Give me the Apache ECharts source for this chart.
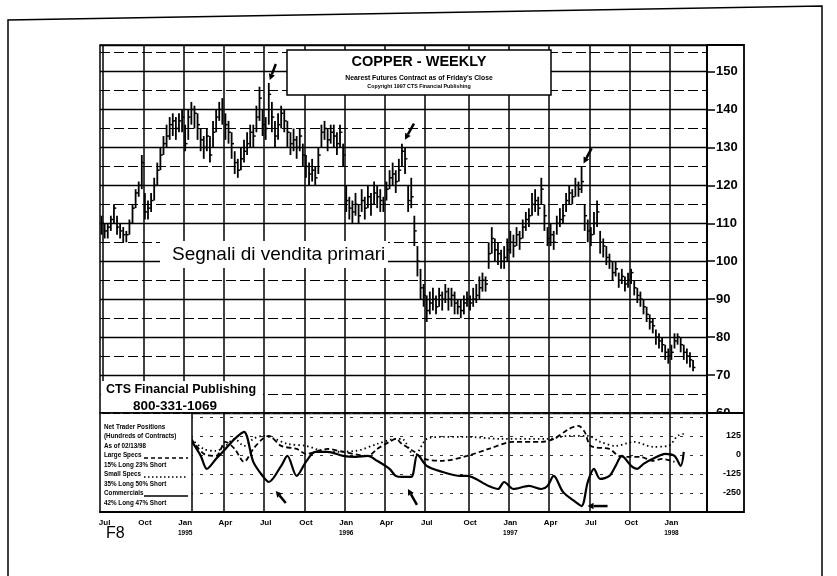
<!DOCTYPE html>
<html><head><meta charset="utf-8">
<script src="https://cdn.jsdelivr.net/npm/echarts@6/dist/echarts.min.js"></script>
<style>html,body{margin:0;padding:0;background:#fff}#c{width:837px;height:576px}</style>
</head><body><div id="c"></div>
<script>
// ---------- DATA ----------
const startDate = Date.UTC(1994, 5, 24); // first weekly bar (Friday)
const weekCount = 196;                   // weekly slots on the axis (Jun 1994 - Mar 1998)
const monthNames = ['Jan','Feb','Mar','Apr','May','Jun','Jul','Aug','Sep','Oct','Nov','Dec'];
const priceTicks = [60,70,80,90,100,110,120,130,140,150];
const priceMinorLevels = [65,75,85,95,105,115,125,135,145,155];
const cotTicks = [125,0,-125,-250];

const priceLow = [
107,106,106,108,110,107,106,105,105,107,
110,114,117,119,111,111,113,116,120,124,
128,130,132,133,132,134,134,129,132,136,
135,132,129,127,129,126,130,134,137,136,
132,131,127,123,122,124,126,128,130,130,
134,137,133,132,136,134,130,132,135,134,
130,128,129,127,129,125,122,120,121,120,
123,130,132,129,131,130,128,130,125,113,
111,110,112,110,113,111,114,112,115,114,
113,113,116,119,120,118,121,125,123,113,
114,104,96,90,88,84,86,87,86,88,
87,89,87,88,86,86,85,86,88,87,
88,89,90,92,92,98,102,100,99,98,
98,100,102,101,104,103,106,108,109,112,
113,112,115,108,104,104,103,107,109,110,
113,115,115,117,117,118,108,105,104,107,
109,102,101,99,98,95,96,93,94,92,
93,94,91,89,88,86,84,82,81,78,
77,76,74,73,74,77,78,76,74,73,
72,71];
const priceHigh = [
112,110,110,112,115,112,110,109,108,111,
115,119,121,128,118,116,118,122,126,130,
133,136,138,139,138,139,140,136,140,142,
141,139,135,133,135,133,137,140,142,143,
139,137,134,129,127,130,132,134,136,136,
141,146,140,138,147,142,137,139,141,140,
137,134,135,133,135,131,128,126,127,125,
130,136,137,135,136,136,134,136,131,120,
117,116,118,115,119,117,120,118,121,120,
119,117,121,124,126,124,127,131,130,120,
122,112,104,98,94,91,92,93,91,93,
92,94,93,93,92,90,90,91,92,91,
93,94,96,97,96,105,109,106,105,103,
104,106,108,107,109,108,111,113,114,118,
119,117,122,115,109,110,108,112,114,115,
118,120,119,122,121,125,115,111,109,113,
116,108,106,104,102,100,100,97,98,96,
97,98,95,93,92,90,88,86,85,82,
81,80,78,77,78,81,81,80,78,77,
76,74];
const priceClose = [
110,108,109,111,114,109,108,107,107,110,
114,118,120,126,113,114,116,120,124,128,
131,133,136,137,135,137,138,131,138,140,
139,136,132,130,133,128,134,138,140,140,
136,134,131,126,124,127,129,131,134,133,
138,143,136,135,144,138,133,136,139,137,
134,131,132,130,133,128,125,123,124,122,
128,134,135,132,134,133,131,134,128,116,
114,113,115,112,116,114,117,115,118,117,
116,115,119,122,123,121,124,129,127,116,
117,108,100,93,91,87,89,90,88,91,
90,92,90,91,89,88,87,89,90,89,
90,91,93,95,94,102,106,103,102,100,
101,103,105,104,107,106,109,111,112,115,
116,114,119,112,106,107,105,110,111,112,
116,118,117,120,119,121,112,108,107,110,
113,105,104,101,100,97,98,95,96,94,
95,97,93,91,90,88,86,84,83,80,
79,78,76,75,76,79,80,78,76,75,
74,72];

// Net trader positions (hundreds of contracts), week index on the same weekly axis
const commWeeks  = [29,32,34,37,40,43,46,49,52,54,58,60,63,66,69,73,78,82,86,89,93,95,97,100,102,105,109,116,118,125,128,130,133,138,142,144,146,149,153,155,157,159,161,164,166,168,171,173,175,178,182,185,187,188];
const commValues = [94,-5,-92,-26,39,105,151,-46,-138,-178,-72,-7,-138,-46,20,20,-7,-13,-7,-39,-92,-138,-145,-145,0,-72,-105,-138,-138,-204,-224,-178,-224,-204,-224,-204,-138,-243,-309,-336,-178,-92,-158,-138,-72,-7,-72,-92,-59,-26,7,-7,-72,20];
const largeWeeks  = [29,33,37,40,43,46,49,52,54,58,63,66,73,78,86,89,93,95,97,101,104,110,118,125,133,142,146,151,154,156,158,164,167,170,174,178,181,185];
const largeValues = [105,7,-7,86,39,-46,39,105,125,59,39,7,39,20,-7,39,86,105,72,20,-26,-39,-7,39,86,86,105,171,191,151,59,39,-7,-13,-13,-39,-26,-46];
const smallWeeks  = [29,33,37,40,43,46,49,52,56,60,66,73,82,89,95,97,101,105,110,118,129,144,151,157,161,166,172,178,183,186,188];
const smallValues = [105,39,26,59,105,59,105,125,105,72,59,20,26,72,105,105,-7,105,118,118,105,105,125,125,86,59,86,53,59,125,138];

const titleText = 'COPPER - WEEKLY';
const subTitleText = "Nearest Futures Contract as of Friday's Close";
const copyrightText = 'Copyright 1997 CTS Financial Publishing';
const legendLines = ['Net Trader Positions','(Hundreds of Contracts)','As of 02/13/98','Large Specs','15% Long 23% Short','Small Specs','35% Long 50% Short','Commercials','42% Long 47% Short'];

// ---------- BUILD ----------
const DAY = 864e5;
const FONT = "'Liberation Sans', Arial, Helvetica, sans-serif";
const cats = [];
for (let i = 0; i < weekCount; i++) {
  const d = new Date(startDate + i * 7 * DAY);
  cats.push(d.toISOString().slice(0, 10));
}
function quarterInfo(i) {
  const base = startDate + i * 7 * DAY;
  for (let k = -3; k <= 3; k++) {
    const t = new Date(base + k * DAY);
    if (t.getUTCDate() === 1 && t.getUTCMonth() % 3 === 0) return {m: t.getUTCMonth(), y: t.getUTCFullYear()};
  }
  return null;
}
const qFn = (idx) => quarterInfo(idx) !== null;

const barData = priceClose.map((c, i) => [i, priceLow[i], priceHigh[i], c]);
const pair = (ws, vs) => ws.map((w, i) => [w, vs[i]]);

const G = {left: 100, right: 707, top: 45, sep: 413, bottom: 512, col: 744};

const chart = echarts.init(document.getElementById('c'));
const option = {
  animation: false,
  backgroundColor: '#fff',
  grid: [
    {left: G.left, top: G.top, width: G.right - G.left, height: G.sep - G.top, show: true, borderColor: '#000', borderWidth: 1.5, backgroundColor: 'transparent'},
    {left: G.left, top: G.sep, width: G.right - G.left, height: G.bottom - G.sep, show: true, borderColor: '#000', borderWidth: 1.5, backgroundColor: 'transparent'}
  ],
  xAxis: [
    {type: 'category', gridIndex: 0, data: cats, boundaryGap: true,
     axisLine: {show: false, onZero: false}, axisTick: {show: false}, axisLabel: {show: false},
     splitLine: {show: true, interval: qFn, lineStyle: {color: '#000', width: 1.5}}},
    {type: 'category', gridIndex: 1, data: cats, boundaryGap: true,
     axisLine: {show: true, onZero: false, lineStyle: {color: '#000', width: 2}}, axisTick: {show: false},
     splitLine: {show: true, interval: qFn, lineStyle: {color: '#000', width: 1.5}},
     axisLabel: {show: true, interval: qFn, margin: 5, color: '#000',
       formatter: (v, idx) => {
         const q = quarterInfo(idx); if (!q) return '';
         const m = monthNames[q.m];
         return q.m === 0 ? '{m|' + m + '}\n{y|' + q.y + '}' : '{m|' + m + '}';
       },
       rich: {m: {fontFamily: FONT, fontWeight: 'bold', fontSize: 8, lineHeight: 11, color: '#000'},
              y: {fontFamily: FONT, fontWeight: 'bold', fontSize: 6.5, lineHeight: 11, color: '#000'}}}}
  ],
  yAxis: [
    {type: 'value', gridIndex: 0, position: 'right', min: 60, max: 157, interval: 10,
     axisLine: {show: true, lineStyle: {color: '#000', width: 1.5}},
     axisTick: {show: true, length: 8, lineStyle: {color: '#000', width: 1.5}},
     axisLabel: {margin: 9, color: '#000', fontFamily: FONT, fontWeight: 'bold', fontSize: 13,
       formatter: v => priceTicks.indexOf(v) >= 0 ? String(v) : ''},
     splitLine: {show: true, lineStyle: {color: '#000', width: 1.4}}},
    {type: 'value', gridIndex: 1, position: 'right', min: -375, max: 275, interval: 125,
     axisLine: {show: true, lineStyle: {color: '#000', width: 1.5}},
     axisTick: {show: false},
     axisLabel: {margin: 34, align: 'right', color: '#000', fontFamily: FONT, fontWeight: 'bold', fontSize: 9,
       formatter: v => cotTicks.indexOf(v) >= 0 ? String(v) : ''},
     splitLine: {show: true, lineStyle: {color: '#333', width: 1, type: [3, 7]}}}
  ],
  series: [
    {type: 'custom', xAxisIndex: 0, yAxisIndex: 0, data: barData, encode: {x: 0, y: [1, 2, 3]}, clip: true,
     renderItem: (params, api) => {
       const x = api.value(0);
       const pl = api.coord([x, api.value(1)]), ph = api.coord([x, api.value(2)]), pc = api.coord([x, api.value(3)]);
       return {type: 'group', children: [
         {type: 'line', shape: {x1: pl[0], y1: pl[1], x2: ph[0], y2: ph[1]}, style: {stroke: '#000', lineWidth: 1.8}},
         {type: 'line', shape: {x1: pc[0], y1: pc[1], x2: pc[0] + 2.4, y2: pc[1]}, style: {stroke: '#000', lineWidth: 1.5}}
       ]};
     },
     markLine: {silent: true, symbol: ['none', 'none'], label: {show: false},
       lineStyle: {color: '#000', width: 1.2, type: [10, 4]},
       data: priceMinorLevels.map(v => ({yAxis: v}))}},
    {type: 'line', name: 'Commercials', xAxisIndex: 1, yAxisIndex: 1, data: pair(commWeeks, commValues),
     showSymbol: false, smooth: 0.3, lineStyle: {color: '#000', width: 2.2}},
    {type: 'line', name: 'Large Specs', xAxisIndex: 1, yAxisIndex: 1, data: pair(largeWeeks, largeValues),
     showSymbol: false, smooth: 0.3, lineStyle: {color: '#000', width: 1.8, type: [5, 3]}},
    {type: 'line', name: 'Small Specs', xAxisIndex: 1, yAxisIndex: 1, data: pair(smallWeeks, smallValues),
     showSymbol: false, smooth: 0.3, lineStyle: {color: '#000', width: 1.8, type: [1.5, 3]}}
  ]
};
chart.setOption(option);

// ---------- ANNOTATIONS ----------
function arrow(tip, tail, w) {
  const dx = tip[0] - tail[0], dy = tip[1] - tail[1], len = Math.hypot(dx, dy);
  const ux = dx / len, uy = dy / len, hl = 6, hw = 3.2;
  const bx = tip[0] - ux * hl, by = tip[1] - uy * hl;
  return [
    {type: 'line', z: 60, shape: {x1: tail[0], y1: tail[1], x2: bx, y2: by}, style: {stroke: '#000', lineWidth: w}},
    {type: 'polygon', z: 60, shape: {points: [tip, [bx - uy * hw, by + ux * hw], [bx + uy * hw, by - ux * hw]]}, style: {fill: '#000'}}
  ];
}
const P = (w, v) => chart.convertToPixel({xAxisIndex: 0, yAxisIndex: 0}, [cats[w], v]);
const C = (w, v) => chart.convertToPixel({xAxisIndex: 1, yAxisIndex: 1}, [cats[w], v]);
const arrows = [];
{ const p = P(54, priceHigh[54]); const t = [p[0] + 1, p[1] - 3]; arrows.push(...arrow(t, [t[0] + 6, t[1] - 16], 2.5)); }
{ const p = P(97, priceHigh[97]); const t = [p[0] + 3, p[1] - 4]; arrows.push(...arrow(t, [t[0] + 9, t[1] - 16], 2.5)); }
{ const p = P(155, priceHigh[155]); const t = [p[0] + 2, p[1] - 3]; arrows.push(...arrow(t, [t[0] + 8, t[1] - 15], 2.5)); }
{ const i = commWeeks.indexOf(54); const p = C(54, commValues[i]); const t = [p[0] + 7, p[1] + 9]; arrows.push(...arrow(t, [t[0] + 10, t[1] + 12], 2.5)); }
{ const i = commWeeks.indexOf(97); const p = C(97, commValues[i]); const t = [p[0] + 6, p[1] + 12]; arrows.push(...arrow(t, [t[0] + 9, t[1] + 16], 2.5)); }
{ const i = commWeeks.indexOf(155); const p = C(155, commValues[i]); const t = [p[0] + 6, p[1]]; arrows.push(...arrow(t, [t[0] + 20, t[1]], 2.5)); }

const txt = (x, y, text, size, weight, align) => ({type: 'text', z: 70, x, y,
  style: {text, fill: '#000', font: (weight || 'normal') + ' ' + size + 'px ' + FONT, textAlign: align || 'left', textVerticalAlign: 'middle'}});

const graphics = [
  // page border
  {type: 'polyline', z: 40, shape: {points: [[8, 576], [8, 20], [822, 6], [822, 576]]}, style: {stroke: '#000', lineWidth: 1.5, fill: null}},
  // label column frame
  {type: 'polyline', z: 40, shape: {points: [[G.right, G.top], [G.col, G.top], [G.col, G.bottom], [G.right, G.bottom]]}, style: {stroke: '#000', lineWidth: 1.8, fill: null}},
  {type: 'rect', z: 45, shape: {x: G.right + 2, y: G.sep + 1, width: G.col - G.right - 3, height: 9}, style: {fill: '#fff'}},
  {type: 'line', z: 50, shape: {x1: G.right, y1: G.sep, x2: G.col, y2: G.sep}, style: {stroke: '#000', lineWidth: 2}},
  // title box
  {type: 'rect', z: 50, shape: {x: 287, y: 50, width: 264, height: 45}, style: {fill: '#fff', stroke: '#000', lineWidth: 1.5}},
  txt(419, 62, titleText, 14.5, 'bold', 'center'),
  txt(419, 78, subTitleText, 6.8, 'bold', 'center'),
  txt(419, 87, copyrightText, 5.3, 'bold', 'center'),
  // annotation text
  {type: 'rect', z: 50, shape: {x: 160, y: 241, width: 228, height: 27}, style: {fill: '#fff'}},
  txt(172, 255, 'Segnali di vendita primari', 19, 'normal', 'left'),
  // CTS box
  {type: 'rect', z: 50, shape: {x: 101, y: 381, width: 162, height: 31}, style: {fill: '#fff'}},
  txt(106, 390, 'CTS Financial Publishing', 12.5, 'bold', 'left'),
  txt(133, 406, '800-331-1069', 13.5, 'bold', 'left'),
  // legend box
  {type: 'rect', z: 50, shape: {x: 101, y: 414, width: 91, height: 97}, style: {fill: '#fff'}},
  {type: 'line', z: 55, shape: {x1: 192, y1: G.sep, x2: 192, y2: G.bottom}, style: {stroke: '#000', lineWidth: 1.5}},
  {type: 'line', z: 55, shape: {x1: 144, y1: 458, x2: 188, y2: 458}, style: {stroke: '#000', lineWidth: 1.5, lineDash: [4, 3]}},
  {type: 'line', z: 55, shape: {x1: 144, y1: 477, x2: 188, y2: 477}, style: {stroke: '#000', lineWidth: 1.5, lineDash: [1.5, 2.5]}},
  {type: 'line', z: 55, shape: {x1: 144, y1: 496, x2: 188, y2: 496}, style: {stroke: '#000', lineWidth: 1.5}},
  ...legendLines.map((s, i) => txt(104, 427 + i * 9.5, s, 6.3, 'bold', 'left')),
  // F8
  txt(106, 534, 'F8', 16, 'normal', 'left'),
  ...arrows
];
chart.setOption({graphic: graphics});
</script></body></html>
